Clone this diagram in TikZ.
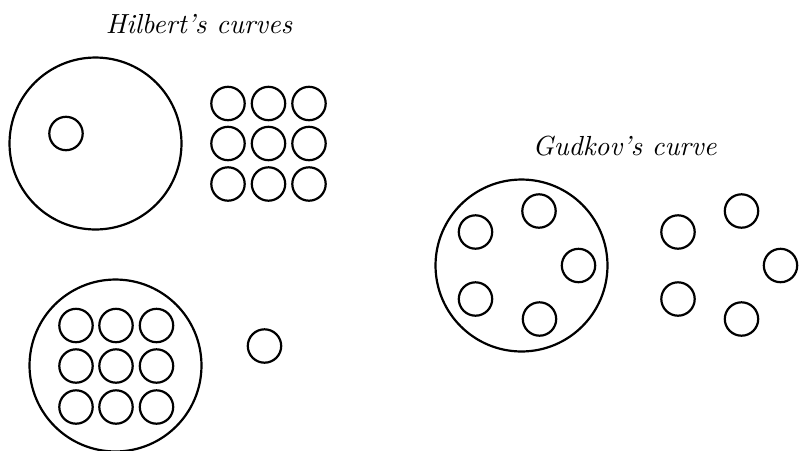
\documentclass[tikz,border=0pt]{standalone}
\begin{document}
\begin{tikzpicture}[x=0.3623pt,y=-0.3623pt,
  smallc/.style={circle,draw,line width=0.8pt,minimum size=12.1pt,inner sep=0pt},
  bigc/.style={circle,draw,line width=0.8pt,minimum size=62.3pt,inner sep=0pt},
  title/.style={anchor=base,font=\itshape,inner sep=0pt}]
\useasboundingbox (0,0) rectangle (799,450);
% titles
\node[title] (th) at (199,33) {Hilbert's curves};
\node[title] (tg) at (624.5,155) {Gudkov's curve};
% Hilbert 1
\node[bigc] (h1) at (95.5,143.5) {};
\node[smallc] (h1i) at (66,133.5) {};
\foreach \i/\x in {1/228,2/268.5,3/309}
  \foreach \j/\y in {1/103.5,2/143.5,3/184}
    \node[smallc] (h1o\i\j) at (\x,\y) {};
% Hilbert 2
\node[bigc] (h2) at (115.5,365.5) {};
\foreach \i/\x in {1/76,2/116,3/156.5}
  \foreach \j/\y in {1/325.5,2/366,3/407}
    \node[smallc] (h2i\i\j) at (\x,\y) {};
\node[smallc] (h2o) at (264.5,346) {};
% Gudkov
\node[bigc] (g) at (521.5,265.5) {};
\foreach \k/\x/\y in {1/475.5/232,2/539/211,3/578.5/265.5,4/475.5/299,5/539.5/319}
  \node[smallc] (gi\k) at (\x,\y) {};
\foreach \k/\x/\y in {1/678/232,2/741.5/211,3/780.5/265.5,4/678/299,5/741.5/319}
  \node[smallc] (go\k) at (\x,\y) {};
\end{tikzpicture}
\end{document}
